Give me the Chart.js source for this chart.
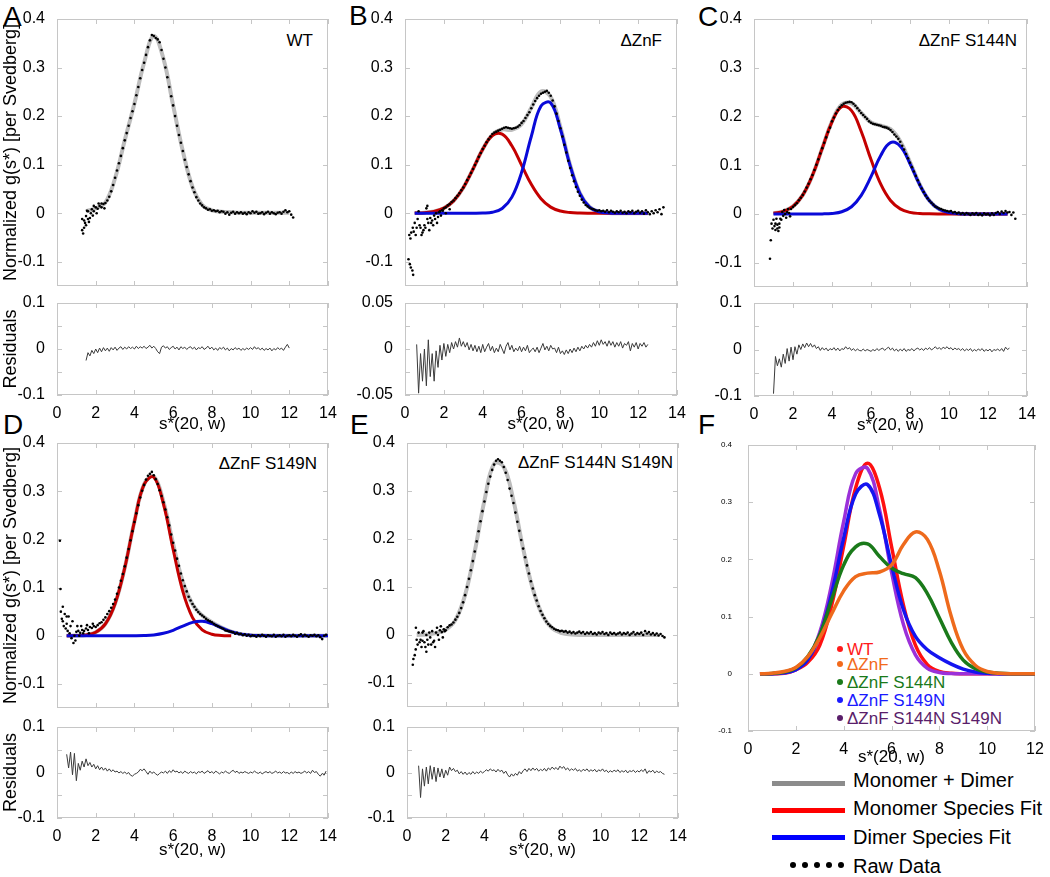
<!DOCTYPE html>
<html>
<head>
<meta charset="utf-8">
<title>g(s*) fits</title>
<script src="https://cdn.jsdelivr.net/npm/chart.js@4.4.1/dist/chart.umd.min.js"></script>
<style>
  body { margin: 0; background: #fff; }
  #fig { position: relative; width: 1050px; height: 877px; overflow: hidden; font-family: Arial, "Liberation Sans", sans-serif; color: #000; }
  #fig canvas { position: absolute; }
  .t { position: absolute; line-height: 1; white-space: nowrap; }
  .let { font-size: 28px; }
  .ann { font-size: 17px; }
  .key { font-size: 17px; }
  .big { font-size: 20px; }
  .dot { position: absolute; width: 6px; height: 6px; border-radius: 50%; }
  .sw { position: absolute; left: 772px; width: 73px; height: 5px; }
</style>
</head>
<body>
<div id="fig">
  <div class="t let" style="left:3px;top:3px">A</div>
  <div class="t let" style="left:349px;top:2px">B</div>
  <div class="t let" style="left:698px;top:3px">C</div>
  <div class="t let" style="left:3px;top:411px">D</div>
  <div class="t let" style="left:350px;top:411px">E</div>
  <div class="t let" style="left:698px;top:411px">F</div>

  <div class="t ann" style="right:737px;top:32px">WT</div>
  <div class="t ann" style="right:388px;top:32px">ΔZnF</div>
  <div class="t ann" style="right:33px;top:32px">ΔZnF S144N</div>
  <div class="t ann" style="right:733px;top:455px">ΔZnF S149N</div>
  <div class="t ann" style="right:377px;top:454px">ΔZnF S144N S149N</div>

  <div class="dot" style="left:837px;top:646px;background:#ff1a1a"></div>
  <div class="t key" style="left:847px;top:641px;color:#ff1a1a">WT</div>
  <div class="dot" style="left:837px;top:661px;background:#f26a1b"></div>
  <div class="t key" style="left:847px;top:656px;color:#f26a1b">ΔZnF</div>
  <div class="dot" style="left:837px;top:679px;background:#1a7a1a"></div>
  <div class="t key" style="left:847px;top:674px;color:#1a7a1a">ΔZnF S144N</div>
  <div class="dot" style="left:837px;top:697px;background:#1a1aff"></div>
  <div class="t key" style="left:847px;top:692px;color:#1a1aff">ΔZnF S149N</div>
  <div class="dot" style="left:837px;top:715px;background:#5a1e6a"></div>
  <div class="t key" style="left:847px;top:710px;color:#5a1e6a">ΔZnF S144N S149N</div>

  <div class="sw" style="top:781px;background:#8c8c8c"></div>
  <div class="t big" style="left:853px;top:770px">Monomer + Dimer</div>
  <div class="sw" style="top:808px;background:#ff0000"></div>
  <div class="t big" style="left:853px;top:798px">Monomer Species Fit</div>
  <div class="sw" style="top:835px;background:#0000ff"></div>
  <div class="t big" style="left:853px;top:827px">Dimer Species Fit</div>
  <div class="dot" style="left:790px;top:862px;background:#000"></div>
  <div class="dot" style="left:802px;top:862px;background:#000"></div>
  <div class="dot" style="left:814px;top:862px;background:#000"></div>
  <div class="dot" style="left:826px;top:862px;background:#000"></div>
  <div class="dot" style="left:838px;top:862px;background:#000"></div>
  <div class="t big" style="left:853px;top:856px">Raw Data</div>
</div>
<script>
// tick positions
const sTicks = [0, 2, 4, 6, 8, 10, 12, 14]
const fTicks = [0, 2, 4, 6, 8, 10, 12]
const mainTicks = [-0.1, 0, 0.1, 0.2, 0.3, 0.4]
const resTicks = [-0.1, 0, 0.1]
const resMarks = [-0.1, -0.05, 0, 0.05, 0.1]
const resTicksB = [-0.05, 0, 0.05]
const resMarksB = [-0.05, -0.025, 0, 0.025, 0.05]

// fitted curves, sampled every 0.5 S from 0.5 to 14
const greyA = [null, null, 0.004, 0.01, 0.022, 0.072, 0.15, 0.226, 0.31, 0.365, 0.318, 0.222, 0.128, 0.054,
  0.017, 0.006, 0.003, 0.002, 0.001, 0.001, 0.001, 0.001, 0.001, 0.001, null, null, null, null]
const redB = [0.0002, 0.001, 0.0035, 0.0103, 0.0254, 0.0525, 0.0908, 0.1316, 0.16, 0.1627, 0.1388, 0.0992, 0.0594, 0.0298,
  0.0125, 0.0044, 0.0013, 0.0003, 0, 0, 0, 0, 0, 0, 0, null, null, null]
const blueB = [0, 0, 0, 0, 0, 0, 0, 0.0003, 0.002, 0.0096, 0.033, 0.084, 0.158, 0.221,
  0.227, 0.173, 0.098, 0.041, 0.0126, 0.0029, 0.0005, 0, 0, 0, 0, null, null, null]
const greyB = [0.0002, 0.001, 0.0035, 0.0103, 0.0254, 0.0525, 0.0908, 0.1319, 0.162, 0.1723, 0.1718, 0.1832, 0.2174, 0.2508,
  0.2395, 0.1774, 0.0993, 0.0413, 0.0126, 0.0029, 0.0005, 0, 0, 0, 0, null, null, null]
const redC = [null, 0.0014, 0.0052, 0.0156, 0.0386, 0.0793, 0.1347, 0.189, 0.22, 0.212, 0.169, 0.1115, 0.061, 0.0275,
  0.0103, 0.0032, 0.0008, 0.0002, 0, 0, 0, 0, 0, 0, 0, 0, null, null]
const blueC = [null, 0, 0, 0, 0, 0, 0, 0.001, 0.0044, 0.0147, 0.038, 0.0764, 0.12, 0.1464,
  0.139, 0.103, 0.0596, 0.0268, 0.0094, 0.0026, 0.0005, 0, 0, 0, 0, 0, null, null]
const greyC = [null, 0.0014, 0.0052, 0.0156, 0.0386, 0.0793, 0.1347, 0.19, 0.2244, 0.2267, 0.207, 0.1879, 0.181, 0.1739,
  0.1493, 0.1062, 0.0604, 0.027, 0.0094, 0.0026, 0.0005, 0, 0, 0, 0, 0, null, null]
const redD = [0.0001, 0.0003, 0.0017, 0.0072, 0.0246, 0.0666, 0.141, 0.237, 0.314, 0.329, 0.273, 0.179, 0.092, 0.0377,
  0.0122, 0.0031, 0.0006, 0, null, null, null, null, null, null, null, null, null, null]
const blueD = [0, 0, 0, 0, 0, 0, 0, 0, 0.0004, 0.0017, 0.005, 0.0113, 0.02, 0.0277,
  0.0299, 0.025, 0.0164, 0.0083, 0.0033, 0.001, 0.0003, 0, 0, 0, 0, 0, 0, 0]
const greyD = [0.0001, 0.0003, 0.0017, 0.0072, 0.0246, 0.0666, 0.141, 0.237, 0.3144, 0.3307, 0.278, 0.1903, 0.112, 0.0654,
  0.0421, 0.0281, 0.017, 0.0083, 0.0033, 0.001, 0.0003, 0, 0, 0, 0, 0, 0, 0]
const greyE = [0, 0.001, 0.004, 0.011, 0.031, 0.083, 0.174, 0.28, 0.357, 0.35, 0.28, 0.18, 0.096, 0.041,
  0.014, 0.004, 0.001, 0, 0, 0, 0, 0, 0, 0, 0, 0, null, null]

// raw g(s*) points, every 0.1 S from the start value
const rawStartA = 1.3
const rawA = [-0.012, -0.03, -0.006, 0.004, -0.01, 0.008, 0.004, 0.012, 0.009, 0.015,
  0.012, 0.019, 0.021, 0.026, 0.034, 0.045, 0.058, 0.073, 0.088, 0.103,
  0.118, 0.134, 0.15, 0.165, 0.18, 0.196, 0.21, 0.225, 0.243, 0.26,
  0.278, 0.295, 0.31, 0.326, 0.342, 0.356, 0.367, 0.365, 0.361, 0.358,
  0.352, 0.336, 0.318, 0.3, 0.28, 0.26, 0.241, 0.222, 0.2, 0.18,
  0.161, 0.145, 0.128, 0.11, 0.095, 0.08, 0.066, 0.053, 0.043, 0.033,
  0.026, 0.02, 0.016, 0.012, 0.01, 0.007, 0.008, 0.005, 0.006, 0.004,
  0.005, 0.002, 0.004, 0.003, -0.001, 0.002, -0.003, 0.001, 0.003, -0.001,
  0.002, 0, 0.002, -0.001, 0.001, -0.002, 0.002, 0, 0.004, 0.001,
  0.003, -0.001, 0, 0.002, -0.002, 0.001, 0.003, -0.001, 0.002, 0,
  -0.002, 0.001, 0.002, -0.001, 0.003, 0.006, 0.002, 0.004, -0.003, -0.009]
const rawStartB = 0.7
const rawB = [0.004, -0.03, -0.04, -0.025, 0.01, -0.02, -0.01, -0.015, -0.005, 0,
  -0.008, 0.004, 0.006, 0.01, 0.012, 0.016, 0.019, 0.023, 0.026, 0.031,
  0.036, 0.041, 0.047, 0.053, 0.06, 0.068, 0.075, 0.083, 0.091, 0.099,
  0.107, 0.116, 0.124, 0.132, 0.139, 0.146, 0.152, 0.158, 0.163, 0.166,
  0.168, 0.17, 0.172, 0.174, 0.176, 0.177, 0.176, 0.175, 0.174, 0.175,
  0.176, 0.178, 0.181, 0.186, 0.19, 0.196, 0.202, 0.208, 0.216, 0.224,
  0.231, 0.237, 0.242, 0.246, 0.248, 0.25, 0.252, 0.248, 0.242, 0.232,
  0.22, 0.205, 0.19, 0.175, 0.158, 0.141, 0.125, 0.108, 0.093, 0.078,
  0.066, 0.054, 0.044, 0.036, 0.028, 0.022, 0.017, 0.014, 0.011, 0.009,
  0.008, 0.006, 0.005, 0.006, 0.004, 0.005, 0.003, 0.006, 0.002, 0.005,
  0.003, 0.001, 0.004, 0.002, 0.005, 0.001, 0.003, 0, 0.004, 0.002,
  0.005, 0, 0.003, 0.005, 0.001, 0.004, -0.001, 0.006, 0.002, -0.002,
  0.004, 0, 0.006, 0.002, 0.008, -0.002, 0.012]
const rawStartC = 1.1
const rawC = [-0.02, -0.03, -0.02, -0.012, -0.004, 0, 0.004, 0.002, 0.01, 0.014,
  0.018, 0.022, 0.028, 0.033, 0.039, 0.046, 0.054, 0.062, 0.071, 0.08,
  0.09, 0.101, 0.112, 0.124, 0.135, 0.146, 0.157, 0.168, 0.177, 0.19,
  0.198, 0.206, 0.213, 0.219, 0.223, 0.226, 0.228, 0.229, 0.23, 0.229,
  0.226, 0.222, 0.217, 0.212, 0.207, 0.203, 0.199, 0.195, 0.19, 0.187,
  0.185, 0.184, 0.183, 0.182, 0.181, 0.179, 0.178, 0.177, 0.175, 0.172,
  0.168, 0.163, 0.159, 0.154, 0.148, 0.14, 0.132, 0.123, 0.114, 0.105,
  0.096, 0.087, 0.078, 0.069, 0.06, 0.052, 0.045, 0.038, 0.032, 0.027,
  0.023, 0.019, 0.015, 0.013, 0.011, 0.01, 0.008, 0.007, 0.006, 0.005,
  0.006, 0.003, 0.004, 0.001, 0.003, 0, 0.002, -0.001, 0.002, 0,
  -0.002, 0.001, -0.001, 0.002, -0.002, 0, -0.003, 0.001, -0.001, 0,
  -0.003, 0.001, -0.002, 0.002, 0.004, 0, 0.005, 0.002, 0.006, 0.003,
  0.004, -0.002, 0.003, -0.01]
const rawStartD = 0.3
const rawD = [0.03, 0.045, 0.025, 0.04, 0.02, 0.03, 0, 0.008, 0.01, 0.006,
  0.012, 0.01, 0.015, 0.012, 0.018, 0.016, 0.02, 0.018, 0.022, 0.026,
  0.028, 0.033, 0.038, 0.045, 0.051, 0.058, 0.066, 0.075, 0.087, 0.1,
  0.114, 0.128, 0.144, 0.162, 0.18, 0.198, 0.217, 0.236, 0.254, 0.271,
  0.287, 0.301, 0.313, 0.324, 0.332, 0.336, 0.34, 0.333, 0.325, 0.315,
  0.302, 0.29, 0.277, 0.262, 0.246, 0.229, 0.21, 0.193, 0.177, 0.16,
  0.145, 0.129, 0.115, 0.103, 0.092, 0.081, 0.073, 0.066, 0.06, 0.054,
  0.049, 0.045, 0.042, 0.039, 0.035, 0.032, 0.03, 0.028, 0.025, 0.022,
  0.02, 0.018, 0.016, 0.014, 0.011, 0.01, 0.009, 0.008, 0.007, 0.004,
  0.006, 0.003, 0.004, 0.001, 0.003, 0, 0.002, -0.001, 0.001, 0,
  -0.002, 0.001, -0.001, 0.002, 0, -0.002, 0.001, 0, -0.001, 0.002,
  -0.002, 0, 0.001, -0.001, 0.002, -0.002, 0, 0.001, -0.001, 0.002,
  0, -0.002, 0.001, 0.003, -0.001, 0.002, 0, -0.002, 0.001, 0,
  0.002, -0.001, 0.001, -0.003, -0.007, 0, 0.002]
const rawStartE = 0.7
const rawE = [-0.01, 0.005, -0.015, 0, -0.02, -0.005, 0.008, -0.012, 0.005, 0,
  0.01, 0.006, 0.012, 0.01, 0.016, 0.02, 0.022, 0.026, 0.032, 0.038,
  0.046, 0.056, 0.068, 0.083, 0.1, 0.117, 0.135, 0.154, 0.174, 0.195,
  0.216, 0.237, 0.258, 0.278, 0.298, 0.315, 0.33, 0.344, 0.355, 0.363,
  0.366, 0.363, 0.36, 0.35, 0.338, 0.323, 0.305, 0.29, 0.275, 0.255,
  0.236, 0.217, 0.198, 0.18, 0.162, 0.145, 0.128, 0.112, 0.097, 0.083,
  0.072, 0.06, 0.05, 0.042, 0.035, 0.028, 0.023, 0.019, 0.016, 0.013,
  0.011, 0.01, 0.008, 0.009, 0.007, 0.008, 0.005, 0.007, 0.004, 0.006,
  0.003, 0.005, 0.007, 0.004, 0.006, 0.002, 0.005, 0.003, 0.006, 0.002,
  0.004, 0.001, 0.005, 0.003, 0.006, 0.002, 0.004, 0, 0.005, 0.002,
  0.004, 0.001, 0.003, 0.005, 0.001, 0.004, 0.002, 0.005, 0, 0.003,
  0.006, 0.001, 0.004, 0.002, 0.005, 0, 0.008, 0.003, 0.006, 0.001,
  0.004, 0, 0.003, -0.001, 0.002, -0.002, -0.005]

// scattered low-s raw points [s, g]
const scatA = [[1.3, -0.035], [1.35, -0.042], [1.4, -0.015], [1.45, -0.02], [1.5, -0.025], [1.55, 0.005], [1.6, -0.012],
  [1.65, -0.018], [1.75, 0], [1.85, -0.005], [1.9, 0.015], [2.05, 0], [2.15, 0.02], [2.3, 0.02], [2.45, 0.01]]
const scatB = [[0.18, -0.095], [0.25, -0.105], [0.3, -0.112], [0.38, -0.118], [0.42, -0.127], [0.22, -0.045], [0.28, -0.052],
  [0.32, -0.04], [0.4, -0.03], [0.45, -0.038], [0.5, -0.02], [0.55, -0.045], [0.6, -0.03], [0.65, -0.012], [0.75, -0.025],
  [0.85, -0.045], [0.95, -0.035], [1.05, -0.03], [1.15, -0.012], [1.25, -0.035], [1.35, -0.02], [1.45, -0.025],
  [1.55, -0.012], [1.65, -0.02], [1.75, 0.002], [1.85, -0.005], [1.95, 0.005], [2.1, 0], [2.3, 0.008], [1.15, 0.015]]
const scatC = [[0.82, -0.092], [0.86, -0.054], [0.9, -0.02], [0.95, -0.03], [1.0, -0.012], [1.05, -0.025], [1.1, -0.033],
  [1.15, -0.01], [1.2, -0.022], [1.25, -0.035], [1.3, -0.028], [1.35, -0.01], [1.45, 0.004], [1.55, 0.008],
  [1.65, -0.008], [1.75, 0.01], [1.85, -0.005]]
const scatD = [[0.15, 0.197], [0.18, 0.097], [0.2, 0.05], [0.25, 0.035], [0.3, 0.06], [0.35, 0.02], [0.45, 0.015],
  [0.5, 0.04], [0.55, 0.01], [0.65, 0.005], [0.75, -0.005], [0.85, -0.015], [0.95, -0.01], [1.05, 0.02], [1.15, 0],
  [1.25, 0.02], [1.35, 0.005], [1.55, 0.022], [1.65, 0.005], [1.85, 0.025]]
const scatE = [[0.3, -0.062], [0.33, -0.05], [0.4, -0.042], [0.45, -0.03], [0.46, 0.015], [0.5, -0.01], [0.55, -0.02],
  [0.6, 0.005], [0.65, -0.015], [0.75, -0.025], [0.8, -0.012], [0.85, 0.008], [0.95, -0.025], [1.0, -0.035],
  [1.05, -0.01], [1.15, 0.005], [1.25, -0.02], [1.35, -0.015], [1.45, -0.025], [1.55, 0.015], [1.65, -0.01],
  [1.75, 0.018], [1.85, -0.005], [1.95, 0.008]]

// residuals, every 0.1 S from the start value
const resStartA = 1.5
const resA = [-0.025, -0.008, -0.015, -0.003, -0.01, 0, -0.008, 0.002, -0.006, 0.003,
  -0.004, 0.002, -0.005, 0.003, -0.002, 0.004, -0.003, 0.002, 0.005, -0.001,
  0.004, 0, 0.005, 0.001, 0.004, 0, 0.006, 0.001, 0.005, 0.002,
  0.006, 0.001, 0.004, 0.008, 0.002, 0.006, 0.001, -0.006, -0.01, 0.004,
  0.007, 0.002, 0.005, -0.001, 0.003, 0.006, 0, 0.004, -0.002, 0.005,
  0.001, 0.004, -0.001, 0.003, 0.005, 0, 0.004, -0.002, 0.003, 0.001,
  0.005, -0.001, 0.002, 0.006, 0, 0.004, -0.002, 0.002, -0.003, 0.003,
  0, 0.004, -0.002, 0.002, -0.004, 0.001, -0.002, 0.003, -0.001, 0.002,
  -0.003, 0.001, -0.002, 0.002, -0.001, 0.003, -0.001, 0.005, 0, 0.003,
  -0.002, 0.002, -0.003, 0.001, -0.002, 0.002, -0.004, 0.001, -0.002, 0.003,
  -0.001, 0.002, -0.003, 0.004, 0.01, 0.002]
const resStartB = 0.6
const resB = [0.005, -0.048, -0.005, -0.035, 0, -0.04, 0.01, -0.03, -0.005, -0.035,
  -0.002, -0.02, 0.004, -0.012, 0.006, -0.008, 0.005, -0.004, 0.007, 0,
  0.008, 0.002, 0.012, 0.003, 0.008, 0.002, 0.007, -0.001, 0.005, -0.002,
  0.004, -0.003, 0.003, -0.004, 0.005, -0.003, 0.002, 0.006, -0.002, 0.003,
  -0.004, 0.001, -0.003, 0.005, 0, -0.005, 0.003, 0.007, -0.001, 0.004,
  -0.003, 0.001, -0.002, 0.003, -0.003, 0.002, -0.002, 0.004, -0.004, -0.001,
  0.001, -0.003, 0.002, -0.004, 0.001, 0.006, -0.001, 0.003, -0.002, 0.004,
  0, 0.001, -0.004, 0.002, -0.005, -0.002, -0.006, -0.001, -0.005, 0,
  -0.004, 0.001, -0.003, 0.002, -0.002, 0.003, 0, 0.004, 0.001, 0.005,
  0.002, 0.007, 0.003, 0.009, 0.004, 0.01, 0.005, 0.008, 0.003, 0.009,
  0.004, 0.008, 0.002, 0.007, 0.003, 0.008, 0.001, 0.006, 0.004, 0.008,
  -0.002, 0.006, 0.002, 0.007, 0, 0.006, 0.003, 0.007, 0.002, 0.005]
const resStartC = 1.0
const resC = [-0.095, -0.015, -0.035, -0.02, -0.038, -0.01, -0.03, 0.002, -0.025, 0.005,
  -0.022, 0.006, -0.01, 0.01, 0, 0.012, 0.004, 0.014, 0.006, 0.013,
  0.005, 0.01, 0.002, 0.006, -0.002, 0.004, -0.001, 0.003, -0.003, 0.002,
  -0.001, 0.004, -0.002, 0.003, -0.003, 0.002, 0, 0.006, 0.001, 0.004,
  -0.002, 0.002, -0.003, 0.001, -0.002, -0.003, 0.001, -0.003, 0, -0.002,
  -0.004, 0, -0.003, 0.002, -0.002, 0.001, 0.003, -0.002, 0.002, 0.005,
  -0.001, 0.003, -0.003, 0.001, -0.004, 0.001, -0.003, 0.002, -0.004, 0,
  -0.002, 0.002, -0.003, 0.001, 0.003, -0.001, 0.002, -0.002, 0.003, 0,
  0.004, -0.001, 0.002, 0.006, 0.001, 0.004, 0, 0.005, 0.002, 0.006,
  0.001, 0.004, -0.001, 0.003, 0, 0.002, -0.002, 0.002, -0.003, 0.001,
  -0.002, 0.002, -0.004, 0, -0.003, 0.001, -0.002, 0.002, -0.004, 0,
  -0.003, 0.001, -0.005, 0, -0.002, 0.001, -0.003, 0.002, -0.004, 0.005,
  0, 0.003]
const resStartD = 0.5
const resD = [0.04, 0.01, 0.045, -0.005, 0.042, -0.018, 0.02, 0.005, 0.025, 0.012,
  0.03, 0.015, 0.022, 0.012, 0.018, 0.008, 0.015, 0.006, 0.012, 0.005,
  0.01, 0.003, 0.008, 0.002, 0.006, 0.001, 0.003, -0.001, 0.002, -0.002,
  0.001, -0.003, 0, -0.006, -0.008, -0.004, -0.002, 0.001, 0.007, 0.004,
  0.008, 0.002, -0.004, 0.003, -0.002, 0.001, -0.003, -0.006, -0.002, 0.001,
  -0.001, 0.003, -0.002, 0.004, 0, 0.006, 0.001, 0.003, -0.001, 0.002,
  -0.002, 0.003, 0, -0.002, 0.002, -0.001, 0.001, -0.003, 0.002, 0,
  0.003, -0.002, 0.001, 0.004, -0.001, 0.002, -0.002, 0.003, 0, -0.003,
  0.001, -0.001, 0.003, 0, -0.002, 0.002, 0.005, 0, 0.003, -0.002,
  0.001, -0.001, 0.002, 0, -0.002, 0.001, -0.001, 0.003, 0, -0.002,
  0.001, -0.003, 0, 0.002, -0.001, 0.002, -0.002, 0, 0.003, -0.001,
  0.001, -0.002, 0.002, -0.001, 0, -0.003, 0.001, -0.002, 0.002, -0.001,
  0.001, -0.002, 0, 0.003, -0.001, 0.002, -0.002, 0.005, 0, 0.002,
  -0.004, -0.008, -0.002, -0.006, 0.003]
const resStartE = 0.6
const resE = [0.015, -0.055, 0.008, -0.03, 0.012, -0.025, 0.015, -0.015, 0.012, -0.02,
  0.01, -0.01, 0.008, -0.012, 0.005, -0.006, 0.012, 0.004, 0.009, 0.002,
  0.005, -0.003, 0.002, -0.004, 0.001, -0.005, 0, -0.004, 0.002, -0.003,
  0.001, -0.002, 0.003, -0.001, 0.002, 0.006, 0.003, 0.008, 0.004, 0.006,
  0.001, 0.007, 0.002, 0.005, -0.002, 0.003, -0.005, -0.01, -0.003, -0.008,
  -0.002, -0.006, 0.002, -0.003, 0.004, 0.008, 0.002, 0.009, 0.004, 0.01,
  0.005, 0.009, 0.003, 0.007, 0.004, 0.009, 0.003, 0.01, 0.006, 0.012,
  0.007, 0.011, 0.006, 0.014, 0.009, 0.013, 0.006, 0.01, 0.004, 0.008,
  0.005, 0.009, 0.003, 0.006, 0.002, 0.007, 0.004, 0.008, 0.002, 0.006,
  0.003, 0.007, 0.001, 0.006, 0.003, 0.008, 0.002, 0.005, 0, 0.004,
  0.001, 0.005, 0.002, 0.006, 0, 0.004, 0.001, 0.005, -0.001, 0.004,
  0.002, 0.005, 0, 0.004, 0.001, 0.006, 0.002, 0.008, -0.002, 0.004,
  0.001, 0.005, -0.001, 0.003, 0, 0.002, -0.002, -0.004]

// panel F overlay, every 0.5 S from 0.5 to 12
const fWT = [0, 0.0001, 0.0008, 0.007, 0.02, 0.05, 0.12, 0.223, 0.325, 0.368, 0.325, 0.223,
  0.12, 0.05, 0.016, 0.004, 0.0008, 0.0001, 0, 0, 0, 0, 0, 0]
const fZnF = [0, 0.001, 0.004, 0.011, 0.03, 0.063, 0.105, 0.145, 0.17, 0.176, 0.178, 0.19,
  0.226, 0.248, 0.235, 0.18, 0.1, 0.042, 0.015, 0.004, 0.001, 0, 0, 0]
const fS144N = [0, 0.0005, 0.003, 0.01, 0.03, 0.068, 0.13, 0.19, 0.222, 0.227, 0.205, 0.185,
  0.175, 0.168, 0.14, 0.098, 0.055, 0.024, 0.009, 0.003, 0.001, 0, 0, 0]
const fS149N = [0, 0.0003, 0.0017, 0.0072, 0.0246, 0.0666, 0.141, 0.237, 0.3144, 0.3307, 0.278, 0.19,
  0.112, 0.0654, 0.0421, 0.0281, 0.017, 0.0083, 0.0033, 0.001, 0.0003, 0, 0, 0]
const fDouble = [0, 0.0003, 0.0016, 0.0073, 0.026, 0.0724, 0.157, 0.266, 0.35, 0.359, 0.287, 0.178,
  0.086, 0.033, 0.0096, 0.0022, 0.0004, 0, 0, 0, 0, 0, 0, 0]

Chart.defaults.font.family = 'Arial, "Liberation Sans", sans-serif'
Chart.defaults.color = '#000'

const fig = document.getElementById('fig')
const seq = (start, step, n) => Array.from({ length: n }, (_, i) => Math.round((start + i * step) * 100) / 100)
const onGrid = (xs, ys) => ys.map((y, i) => ({ x: xs[i], y }))
const fitS = seq(0.5, 0.5, 28)
const fS = seq(0.5, 0.5, 24)

const GREY = '#bdbdbd', RED = '#c40000', BLUE = '#0a0ad8'

const rawSet = (start, ys, extra) => ({
  data: [...onGrid(seq(start, 0.1, ys.length), ys), ...extra.map(([x, y]) => ({ x, y }))],
  showLine: false, pointRadius: 1.3, pointBackgroundColor: '#000', pointBorderWidth: 0
})
const fitSet = (xs, ys, color, width) => ({
  data: onGrid(xs, ys), borderColor: color, borderWidth: width, pointRadius: 0, tension: 0.4
})
const resSet = (start, ys) => ({
  data: onGrid(seq(start, 0.1, ys.length), ys), borderColor: '#3a3a3a', borderWidth: 1, pointRadius: 0
})

// grey box with inward tick marks, like the original axes
const boxTicks = {
  id: 'boxTicks',
  beforeDatasetsDraw(chart, args, opts) {
    const { ctx, chartArea: a, scales: { x, y } } = chart
    ctx.save()
    ctx.strokeStyle = '#c6c6c6'
    ctx.lineWidth = 1
    ctx.beginPath()
    for (const v of opts.xMarks) {
      const px = Math.round(x.getPixelForValue(v)) + 0.5
      ctx.moveTo(px, a.top); ctx.lineTo(px, a.top + 5)
      ctx.moveTo(px, a.bottom); ctx.lineTo(px, a.bottom - 5)
    }
    for (const v of opts.yMarks) {
      const py = Math.round(y.getPixelForValue(v)) + 0.5
      ctx.moveTo(a.left, py); ctx.lineTo(a.left + 5, py)
      ctx.moveTo(a.right, py); ctx.lineTo(a.right - 5, py)
    }
    ctx.stroke()
    ctx.strokeRect(Math.round(a.left) + 0.5, Math.round(a.top) + 0.5, Math.round(a.width) - 1, Math.round(a.height) - 1)
    ctx.restore()
  }
}

function plot(o) {
  const [l, t, r, b] = o.box
  const padL = o.padL ?? 57, padT = 10, padR = o.padR ?? 12, padB = o.padB ?? 4
  const cv = document.createElement('canvas')
  cv.width = r - l + padL + padR
  cv.height = b - t + padT + padB
  cv.style.left = (l - padL) + 'px'
  cv.style.top = (t - padT) + 'px'
  fig.appendChild(cv)
  new Chart(cv, {
    type: 'line',
    data: { datasets: o.sets },
    options: {
      responsive: false,
      animation: false,
      events: [],
      layout: { padding: { left: 0, top: padT, right: padR, bottom: 0 } },
      plugins: {
        legend: { display: false },
        tooltip: { enabled: false },
        boxTicks: { xMarks: o.xMarks, yMarks: o.yMarks }
      },
      scales: {
        x: {
          type: 'linear', min: 0, max: o.xMax,
          grid: { display: false }, border: { display: false },
          afterBuildTicks: s => { s.ticks = o.xMarks.map(v => ({ value: v })) },
          afterFit: s => { s.height = padB; s.paddingLeft = 0; s.paddingRight = 0 },
          ticks: { display: !!o.xTitle, autoSkip: false, maxRotation: 0, padding: 1, font: { size: 16 }, callback: v => String(v) },
          title: { display: !!o.xTitle, text: o.xTitle, padding: 0, font: { size: 17 } }
        },
        y: {
          type: 'linear', min: o.yMin, max: o.yMax,
          grid: { display: false }, border: { display: false },
          afterBuildTicks: s => { s.ticks = o.yTicks.map(v => ({ value: v })) },
          afterFit: s => { s.width = padL; s.paddingTop = 0; s.paddingBottom = 0 },
          ticks: { autoSkip: false, padding: o.yPad ?? 4, font: { size: o.yFont ?? 16 }, callback: v => String(v) },
          title: { display: !!o.yTitle, text: o.yTitle, padding: 0, font: { size: 18 } }
        }
      }
    },
    plugins: [boxTicks]
  })
}

const mainY = { xMax: 14, xMarks: sTicks, yMin: -0.15, yMax: 0.4, yTicks: mainTicks, yMarks: mainTicks }
const resY = { xMax: 14, xMarks: sTicks, yMin: -0.1, yMax: 0.1, yTicks: resTicks, yMarks: resMarks, xTitle: 's*(20, w)' }
const gTitle = 'Normalized g(s*) [per Svedberg]'

// A  WT
plot({ ...mainY, box: [57, 19, 328, 286], yTitle: gTitle,
  sets: [rawSet(rawStartA, rawA, scatA), fitSet(fitS, greyA, GREY, 4)] })
plot({ ...resY, box: [57, 303, 328, 395], padB: 40, yTitle: 'Residuals', sets: [resSet(resStartA, resA)] })

// B  dZnF
plot({ ...mainY, box: [405, 19, 677, 286],
  sets: [rawSet(rawStartB, rawB, scatB), fitSet(fitS, blueB, BLUE, 3), fitSet(fitS, redB, RED, 3), fitSet(fitS, greyB, GREY, 4)] })
plot({ ...resY, box: [405, 303, 677, 395], padB: 40, yMin: -0.05, yMax: 0.05, yTicks: resTicksB, yMarks: resMarksB,
  sets: [resSet(resStartB, resB)] })

// C  dZnF S144N
plot({ ...mainY, box: [754, 19, 1027, 287],
  sets: [rawSet(rawStartC, rawC, scatC), fitSet(fitS, blueC, BLUE, 3), fitSet(fitS, redC, RED, 3), fitSet(fitS, greyC, GREY, 4)] })
plot({ ...resY, box: [754, 303, 1027, 396], padB: 40, sets: [resSet(resStartC, resC)] })

// D  dZnF S149N
plot({ ...mainY, box: [57, 443, 328, 708], yTitle: gTitle,
  sets: [rawSet(rawStartD, rawD, scatD), fitSet(fitS, blueD, BLUE, 3), fitSet(fitS, redD, RED, 3), fitSet(fitS, greyD, GREY, 4)] })
plot({ ...resY, box: [57, 727, 328, 818], padB: 43, yTitle: 'Residuals', sets: [resSet(resStartD, resD)] })

// E  dZnF S144N S149N
plot({ ...mainY, box: [407, 443, 678, 707],
  sets: [rawSet(rawStartE, rawE, scatE), fitSet(fitS, greyE, GREY, 4)] })
plot({ ...resY, box: [407, 727, 678, 818], padB: 43, sets: [resSet(resStartE, resE)] })

// F  overlay of all fits
plot({ box: [748, 445, 1035, 731], padL: 40, padR: 14, padB: 37, xMax: 12, xMarks: fTicks,
  yMin: -0.1, yMax: 0.4, yTicks: mainTicks, yMarks: mainTicks, yFont: 8, yPad: 8, xTitle: 's*(20, w)',
  sets: [
    fitSet(fS, fZnF, '#ee6a1c', 3.5),
    fitSet(fS, fS144N, '#1a7a1a', 3.5),
    fitSet(fS, fS149N, '#1414f0', 3.5),
    fitSet(fS, fDouble, '#9b30d9', 3.5),
    fitSet(fS, fWT, '#ff1010', 3.5)
  ] })
</script>
</body>
</html>
